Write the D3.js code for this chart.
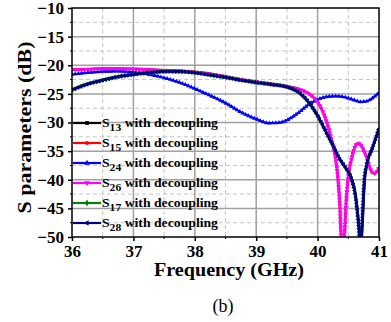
<!DOCTYPE html>
<html>
<head>
<meta charset="utf-8">
<script src="https://cdn.jsdelivr.net/npm/d3@7"></script>
<style>
  body { margin: 0; background: #fff; }
  svg { display: block; }
  text { font-family: "Liberation Serif", "Times New Roman", "DejaVu Serif", serif; }
</style>
</head>
<body>
<svg width="391" height="322"></svg>
<script>
// Frequency points (GHz) and S parameter values (dB)
const freqA = [36, 36.25, 36.5, 36.75, 37, 37.25, 37.5, 37.75, 38, 38.25, 38.5, 38.75, 39, 39.25, 39.5, 39.7, 39.85, 39.95, 40.05, 40.15, 40.23, 40.28, 40.32, 40.36, 40.4, 40.44, 40.47, 40.5, 40.56, 40.61, 40.66, 40.72, 40.78, 40.83, 40.88, 40.93, 40.97, 41];
const s15 = [-20.8, -20.7, -20.6, -20.6, -20.65, -20.75, -20.9, -21.0, -21.2, -21.5, -22.0, -22.5, -22.9, -23.3, -23.7, -24.2, -24.9, -25.8, -27.3, -30.0, -33.1, -35.5, -38.5, -44, -53, -49, -43, -39.5, -36, -34.2, -33.6, -34.2, -35.6, -37.1, -38.6, -38.9, -38.5, -37.8];
const s26 = [-20.8, -20.7, -20.6, -20.6, -20.65, -20.75, -20.9, -21.0, -21.2, -21.5, -22.0, -22.5, -22.9, -23.3, -23.7, -24.2, -24.9, -25.8, -27.3, -30.0, -33.1, -35.5, -38.5, -44, -53, -49, -43, -39.5, -36, -34.2, -33.6, -34.2, -35.6, -37.1, -38.6, -38.9, -38.5, -37.8];

const freqB = [36, 36.25, 36.5, 36.75, 37, 37.25, 37.5, 37.75, 38, 38.25, 38.5, 38.75, 39, 39.2, 39.4, 39.55, 39.7, 39.85, 40, 40.15, 40.3, 40.45, 40.6, 40.7, 40.8, 40.9, 41];
const s24 = [-21.6, -21.3, -21.1, -21.05, -21.2, -21.6, -22.2, -23.0, -24.1, -25.3, -26.6, -28.2, -29.4, -30.1, -30.0, -29.3, -28.2, -26.9, -26.0, -25.5, -25.4, -25.6, -26.1, -26.4, -26.3, -25.7, -24.8];

const freqC = [36, 36.25, 36.5, 36.75, 37, 37.25, 37.5, 37.75, 38, 38.25, 38.5, 38.75, 39, 39.25, 39.5, 39.7, 39.85, 40, 40.15, 40.25, 40.35, 40.45, 40.55, 40.62, 40.67, 40.7, 40.73, 40.76, 40.8, 40.88, 40.94, 41];
const s13 = [-24.3, -23.3, -22.6, -22.0, -21.6, -21.3, -21.1, -21.1, -21.3, -21.7, -22.1, -22.6, -23.0, -23.35, -23.8, -24.8, -26.4, -28.8, -31.9, -34.0, -36.2, -37.8, -39.8, -43, -48, -52, -47, -40.5, -37.4, -34.8, -33, -31.0];
const s17 = s13.slice();
const s28 = s13.slice();

const xTicks = [36, 37, 38, 39, 40, 41];
const yTicks = [-10, -15, -20, -25, -30, -35, -40, -45, -50];

const series = [
  { name: "13", freq: freqC, vals: s13, color: "#000000", shape: d3.symbolSquare },
  { name: "15", freq: freqA, vals: s15, color: "#ff0000", shape: d3.symbolCircle },
  { name: "24", freq: freqB, vals: s24, color: "#0000ff", shape: d3.symbolTriangle },
  { name: "26", freq: freqA, vals: s26, color: "#ff00ff", shape: d3.symbolTriangle, rot: 180 },
  { name: "17", freq: freqC, vals: s17, color: "#008000", shape: d3.symbolDiamond },
  { name: "28", freq: freqC, vals: s28, color: "#000080", shape: d3.symbolTriangle, rot: -90 }
];

const serif = "'Liberation Serif', 'Times New Roman', 'DejaVu Serif', serif";
const svg = d3.select("svg");
const mLeft = 72, mRight = 379, mTop = 8, mBottom = 237;

const x = d3.scaleLinear().domain([36, 41]).range([mLeft, mRight]);
const y = d3.scaleLinear().domain([-50, -10]).range([mBottom, mTop]);

// grid: dashed minor, solid major
const minorX = d3.range(36.5, 41, 1);
const minorY = d3.range(-47.5, -10, 5);
const grid = svg.append("g");
grid.selectAll(".mx").data(minorX).enter().append("line")
  .attr("x1", d => x(d)).attr("x2", d => x(d)).attr("y1", mTop).attr("y2", mBottom)
  .attr("stroke", "#c4c4c4").attr("stroke-dasharray", "4,3");
grid.selectAll(".my").data(minorY).enter().append("line")
  .attr("y1", d => y(d)).attr("y2", d => y(d)).attr("x1", mLeft).attr("x2", mRight)
  .attr("stroke", "#c4c4c4").attr("stroke-dasharray", "4,3");
grid.selectAll(".gx").data(xTicks.slice(1, -1)).enter().append("line")
  .attr("x1", d => x(d)).attr("x2", d => x(d)).attr("y1", mTop).attr("y2", mBottom)
  .attr("stroke", "#a0a0a0").attr("stroke-width", 1.5);
grid.selectAll(".gy").data(yTicks.slice(1, -1)).enter().append("line")
  .attr("y1", d => y(d)).attr("y2", d => y(d)).attr("x1", mLeft).attr("x2", mRight)
  .attr("stroke", "#a0a0a0").attr("stroke-width", 1.5);

// legend
const legend = svg.append("g");
series.forEach((s, i) => {
  const ly = 123 + i * 20;
  legend.append("line").attr("x1", 73).attr("x2", 101).attr("y1", ly).attr("y2", ly)
    .attr("stroke", s.color).attr("stroke-width", 2.2);
  legend.append("path")
    .attr("d", d3.symbol().type(s.shape).size(14)())
    .attr("transform", `translate(87,${ly}) rotate(${s.rot || 0})`)
    .attr("fill", s.color);
  const t = legend.append("text").attr("x", 102).attr("y", ly + 4)
    .attr("font-family", serif).attr("font-size", 13).attr("font-weight", "bold")
    .attr("fill", "#000").attr("textLength", 116).attr("lengthAdjust", "spacingAndGlyphs");
  t.append("tspan").text("S");
  t.append("tspan").attr("font-size", 11).attr("dy", 4).text(s.name);
  t.append("tspan").attr("dy", -4).text(" with decoupling");
});

// curves
svg.append("clipPath").attr("id", "clip").append("rect")
  .attr("x", mLeft).attr("y", mTop).attr("width", mRight - mLeft).attr("height", mBottom - mTop);
const plot = svg.append("g").attr("clip-path", "url(#clip)");
const line = d3.line().curve(d3.curveMonotoneX);

series.forEach(s => {
  const pts = s.freq.map((f, i) => [x(f), y(s.vals[i])]);
  const path = plot.append("path").attr("d", line(pts))
    .attr("fill", "none").attr("stroke", s.color).attr("stroke-width", 2);
  // markers spaced along the drawn curve
  const node = path.node();
  const len = node.getTotalLength();
  const marks = d3.range(0, len, 3.2).map(l => node.getPointAtLength(l));
  plot.append("g").selectAll("path").data(marks).enter().append("path")
    .attr("d", d3.symbol().type(s.shape).size(9)())
    .attr("transform", p => `translate(${p.x},${p.y}) rotate(${s.rot || 0})`)
    .attr("fill", s.color);
});

// axes
const xAxis = d3.axisBottom(x).tickValues(xTicks).tickSize(4).tickFormat(d3.format("d"));
const yAxis = d3.axisLeft(y).tickValues(yTicks).tickSize(4).tickFormat(d3.format("d"));
const gx = svg.append("g").attr("transform", `translate(0,${mBottom})`).call(xAxis);
const gy = svg.append("g").attr("transform", `translate(${mLeft},0)`).call(yAxis);
[gx, gy].forEach(g => {
  g.attr("font-family", serif);
  g.select(".domain").remove();
  g.selectAll("line").attr("stroke", "#000").attr("stroke-width", 1.5);
  g.selectAll("text").attr("font-size", 17).attr("font-weight", "bold")
    .attr("font-family", serif).attr("fill", "#000");
});
gx.selectAll("text").attr("y", 20).attr("dy", 0);
gy.selectAll("text").attr("x", -8);
// minor ticks
svg.append("g").selectAll("line").data(minorX).enter().append("line")
  .attr("x1", d => x(d)).attr("x2", d => x(d)).attr("y1", mBottom).attr("y2", mBottom + 2)
  .attr("stroke", "#000");
svg.append("g").selectAll("line").data(minorY).enter().append("line")
  .attr("x1", mLeft - 2).attr("x2", mLeft).attr("y1", d => y(d)).attr("y2", d => y(d))
  .attr("stroke", "#000");

// frame
svg.append("rect").attr("x", mLeft).attr("y", mTop).attr("width", mRight - mLeft).attr("height", mBottom - mTop)
  .attr("fill", "none").attr("stroke", "#000").attr("stroke-width", 1.5);

// axis titles
svg.append("text").attr("transform", `translate(31,${(mTop + mBottom) / 2 + 5}) rotate(-90)`)
  .attr("text-anchor", "middle").attr("font-family", serif).attr("font-size", 19).attr("font-weight", "bold")
  .attr("textLength", 172).attr("lengthAdjust", "spacingAndGlyphs")
  .text("S parameters (dB)");
svg.append("text").attr("x", 229).attr("y", 276).attr("text-anchor", "middle")
  .attr("font-family", serif).attr("font-size", 18).attr("font-weight", "bold")
  .attr("textLength", 150).attr("lengthAdjust", "spacingAndGlyphs")
  .text("Frequency (GHz)");
svg.append("text").attr("x", 223).attr("y", 312).attr("text-anchor", "middle")
  .attr("font-family", serif).attr("font-size", 18).text("(b)");
</script>
</body>
</html>
